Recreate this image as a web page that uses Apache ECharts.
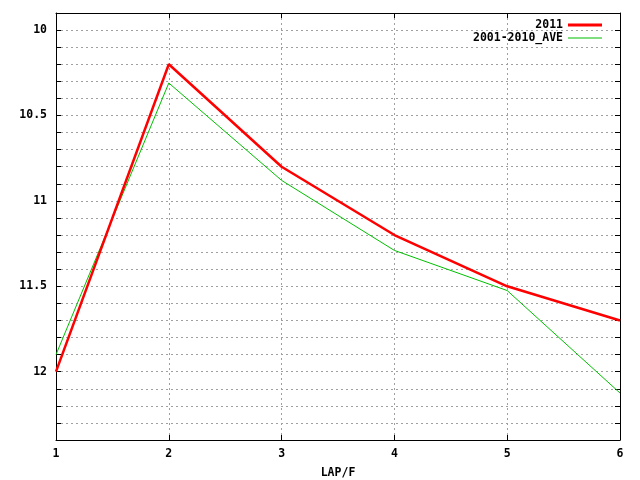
<!DOCTYPE html>
<html>
<head>
<meta charset="utf-8">
<script src="https://cdn.jsdelivr.net/npm/echarts@6/dist/echarts.min.js"></script>
<style>html,body{margin:0;padding:0;background:#fff}#c{width:640px;height:480px}</style>
</head>
<body>
<div id="c"></div>
<script>
var laps = [1, 2, 3, 4, 5, 6];
var series2011 = [12.0, 10.2, 10.8, 11.2, 11.5, 11.7];
var seriesAve = [11.9, 10.31, 10.88, 11.29, 11.525, 12.125];
var yTickLabels = ['10', '10.5', '11', '11.5', '12'];

var FONT = 'DejaVu Sans Mono';
var FS = 11.5;
function pairs(vals) { return laps.map(function (x, i) { return [x, vals[i]]; }); }
function yLabel(v) {
  var s = String(Math.round(v * 10) / 10);
  return yTickLabels.indexOf(s) >= 0 ? s : '';
}
var txt = { fontFamily: FONT, fontWeight: 'bold', fontSize: FS, color: '#000' };
var gridDash = { color: '#a0a0a0', type: [2, 3], width: 1 };
var chart = echarts.init(document.getElementById('c'));
function legendFor(name, top, h) {
  return {
    orient: 'vertical', right: 33, top: top, align: 'right',
    itemWidth: 34, itemHeight: h, icon: 'rect',
    textStyle: Object.assign({ padding: [0, 0, 0, 3] }, txt), data: [name]
  };
}
chart.setOption({
  animation: false,
  backgroundColor: '#fff',
  grid: { left: 56, right: 20, top: 13, bottom: 40, containLabel: false, outerBoundsMode: 'none' },
  legend: [legendFor('2011', 14, 3), legendFor('2001-2010_AVE', 27, 1)],
  xAxis: [{
    type: 'value', min: 1, max: 6, interval: 1, position: 'bottom',
    name: 'LAP/F', nameLocation: 'middle', nameGap: 27,
    nameTextStyle: txt,
    axisLine: { show: true, lineStyle: { color: '#000', width: 1 } },
    axisTick: { show: true, inside: true, length: 5, lineStyle: { color: '#000' } },
    axisLabel: Object.assign({ margin: 8 }, txt),
    splitLine: { show: true, lineStyle: gridDash }
  }, {
    type: 'value', min: 1, max: 6, interval: 1, position: 'top',
    axisLine: { show: true, lineStyle: { color: '#000', width: 1 } },
    axisTick: { show: true, inside: true, length: 5, lineStyle: { color: '#000' } },
    axisLabel: { show: false }, splitLine: { show: false }
  }],
  yAxis: [{
    type: 'value', inverse: true, min: 9.9, max: 12.4, interval: 0.1, position: 'left',
    axisLine: { show: true, lineStyle: { color: '#000', width: 1 } },
    axisTick: { show: true, inside: true, length: 5, lineStyle: { color: '#000' } },
    axisLabel: Object.assign({ margin: 9, formatter: yLabel, showMinLabel: true, showMaxLabel: true, interval: 0 }, txt),
    splitLine: { show: true, lineStyle: gridDash }
  }, {
    type: 'value', inverse: true, min: 9.9, max: 12.4, interval: 0.1, position: 'right',
    axisLine: { show: true, lineStyle: { color: '#000', width: 1 } },
    axisTick: { show: true, inside: true, length: 5, lineStyle: { color: '#000' } },
    axisLabel: { show: false }, splitLine: { show: false }
  }],
  series: [{
    name: '2011', type: 'line', data: pairs(series2011), symbol: 'none',
    lineStyle: { color: '#ff0000', width: 2.5 }, itemStyle: { color: '#ff0000' }, z: 3
  }, {
    name: '2001-2010_AVE', type: 'line', data: pairs(seriesAve), symbol: 'none',
    lineStyle: { color: '#00c000', width: 1 }, itemStyle: { color: '#00c000' }, z: 2
  }]
});
</script>
</body>
</html>
